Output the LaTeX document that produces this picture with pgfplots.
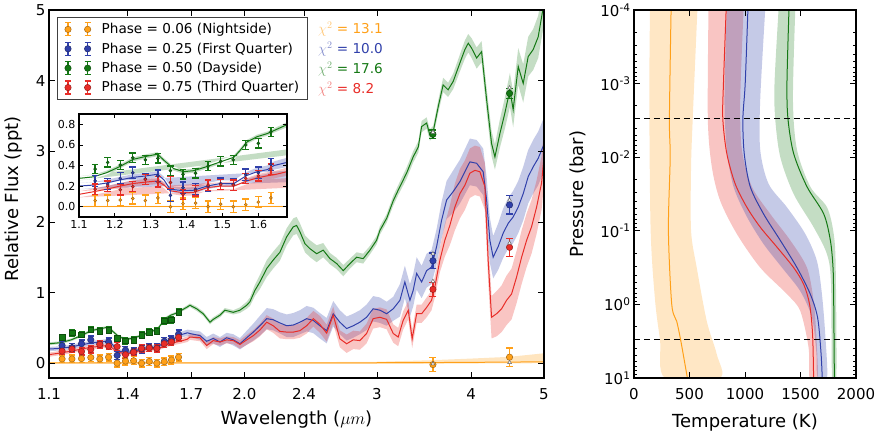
\documentclass[border=0pt]{standalone}
\usepackage{pgfplots}
\pgfplotsset{compat=1.18}
\usepackage{pgfplotstable}
\usepackage{fontspec}
\setmainfont{DejaVu Sans}

\definecolor{cOr}{RGB}{255,160,25}
\definecolor{cBl}{RGB}{48,64,170}
\definecolor{cGr}{RGB}{20,120,20}
\definecolor{cRd}{RGB}{232,45,40}

\pgfplotsset{
  /pgf/number format/assume math mode=true,
  /pgf/number format/1000 sep={},
  every axis/.append style={
    axis line style={line width=1.4pt},
    tick align=inside,
    tick style={black, line width=0.8pt},
    major tick length=6pt, minor tick length=3pt,
    tick label style={font=\fontsize{15}{18}\selectfont},
    label style={font=\fontsize{18}{21.6}\selectfont},
    axis on top,
  },
}

% WFC3 spectroscopic points (ppt)
\pgfplotstableread{
lam og oge bl ble gr gre rd rde
1.145 0.060 0.055 0.250 0.055 0.365 0.045 0.170 0.050
1.180 0.060 0.055 0.220 0.055 0.430 0.045 0.200 0.050
1.215 0.065 0.055 0.275 0.055 0.405 0.045 0.165 0.050
1.250 0.080 0.055 0.330 0.055 0.475 0.045 0.195 0.050
1.285 0.060 0.055 0.270 0.055 0.455 0.045 0.265 0.050
1.320 0.085 0.055 0.300 0.055 0.470 0.045 0.240 0.050
1.355 0.000 0.055 0.110 0.060 0.350 0.045 0.235 0.055
1.390 0.030 0.055 0.185 0.055 0.315 0.045 0.120 0.050
1.425 0.035 0.055 0.170 0.055 0.325 0.045 0.155 0.050
1.460 0.000 0.055 0.200 0.055 0.395 0.045 0.210 0.050
1.495 0.025 0.055 0.225 0.055 0.440 0.045 0.215 0.050
1.530 0.000 0.055 0.215 0.055 0.455 0.045 0.210 0.050
1.565 0.020 0.055 0.310 0.055 0.600 0.045 0.275 0.050
1.600 0.045 0.055 0.330 0.055 0.615 0.045 0.300 0.050
1.635 0.085 0.055 0.410 0.060 0.725 0.045 0.365 0.050
}\wfc

% Spitzer photometry and band-averaged models
\pgfplotstableread{
lam og oge bl ble gr gre rd rde ogm blm grm rdm
3.56 -0.020 0.100 1.450 0.110 3.240 0.060 1.045 0.100 -0.010 1.550 3.270 1.160
4.50 0.085 0.130 2.240 0.130 3.820 0.070 1.640 0.130 0.010 2.310 3.900 1.700
}\spz

% best-fit models with 1-sigma envelopes
\pgfplotstableread{
lam y lo hi
1.10 0.005 -0.010 0.015
1.70 0.005 -0.010 0.015
2.50 0.005 -0.010 0.015
3.00 0.006 -0.010 0.020
3.50 0.008 -0.008 0.040
4.00 0.012 -0.005 0.065
4.50 0.015 -0.003 0.090
5.00 0.020 0.000 0.140
}\omod

\pgfplotstableread{
lam y lo hi
1.100 0.275 0.255 0.295
1.140 0.290 0.270 0.310
1.177 0.330 0.310 0.350
1.214 0.390 0.370 0.410
1.251 0.460 0.440 0.480
1.289 0.490 0.470 0.510
1.319 0.510 0.490 0.530
1.337 0.450 0.430 0.470
1.364 0.370 0.350 0.390
1.392 0.340 0.320 0.360
1.420 0.350 0.330 0.370
1.457 0.390 0.370 0.410
1.494 0.435 0.415 0.455
1.532 0.480 0.460 0.500
1.550 0.550 0.530 0.570
1.569 0.630 0.610 0.650
1.597 0.680 0.660 0.700
1.625 0.710 0.690 0.730
1.644 0.740 0.720 0.760
1.676 0.790 0.765 0.815
1.693 0.820 0.795 0.845
1.728 0.770 0.740 0.800
1.763 0.700 0.670 0.730
1.800 0.580 0.550 0.610
1.818 0.620 0.590 0.650
1.856 0.680 0.650 0.710
1.884 0.750 0.720 0.780
1.933 0.720 0.690 0.750
1.973 0.750 0.710 0.790
2.014 0.820 0.770 0.870
2.034 0.870 0.810 0.930
2.065 1.030 0.950 1.110
2.097 1.150 1.050 1.250
2.141 1.340 1.220 1.460
2.184 1.460 1.340 1.580
2.229 1.570 1.450 1.690
2.276 1.790 1.670 1.910
2.322 1.930 1.810 2.050
2.346 1.950 1.830 2.070
2.370 1.860 1.740 1.980
2.407 1.690 1.570 1.810
2.444 1.620 1.500 1.740
2.494 1.550 1.430 1.670
2.545 1.600 1.500 1.700
2.598 1.480 1.400 1.560
2.652 1.410 1.330 1.490
2.706 1.310 1.230 1.390
2.762 1.410 1.340 1.480
2.819 1.500 1.430 1.570
2.876 1.480 1.410 1.550
2.936 1.600 1.540 1.660
2.996 1.740 1.680 1.800
3.027 1.880 1.820 1.940
3.090 2.050 1.990 2.110
3.153 2.300 2.230 2.370
3.201 2.450 2.380 2.520
3.284 2.690 2.610 2.770
3.351 2.920 2.840 3.000
3.404 3.060 2.980 3.140
3.439 3.350 3.270 3.430
3.492 3.400 3.320 3.480
3.527 3.230 3.150 3.310
3.563 3.280 3.200 3.360
3.618 3.630 3.540 3.720
3.673 3.940 3.840 4.040
3.729 3.870 3.770 3.970
3.788 3.990 3.880 4.100
3.866 4.250 4.130 4.370
3.926 4.440 4.310 4.570
3.966 4.530 4.400 4.660
4.007 4.460 4.320 4.600
4.069 4.320 4.170 4.470
4.131 4.410 4.260 4.560
4.195 3.730 3.560 3.900
4.259 3.110 2.930 3.290
4.303 2.920 2.740 3.100
4.369 3.250 3.050 3.450
4.436 3.540 3.320 3.760
4.505 3.870 3.630 4.110
4.550 3.590 3.340 3.840
4.621 4.200 3.940 4.460
4.692 3.960 3.690 4.230
4.764 4.340 4.060 4.620
4.837 4.440 4.150 4.730
4.912 4.620 4.320 4.920
5.000 5.100 4.800 5.400
}\gmod

\pgfplotstableread{
lam y lo hi
1.100 0.200 0.170 0.230
1.140 0.210 0.180 0.240
1.177 0.230 0.200 0.260
1.214 0.260 0.230 0.290
1.251 0.285 0.255 0.315
1.289 0.300 0.270 0.330
1.319 0.315 0.285 0.345
1.337 0.260 0.230 0.290
1.354 0.170 0.140 0.200
1.392 0.155 0.125 0.185
1.420 0.160 0.130 0.190
1.457 0.200 0.170 0.230
1.494 0.225 0.195 0.255
1.532 0.225 0.195 0.255
1.550 0.265 0.230 0.300
1.569 0.305 0.270 0.340
1.597 0.340 0.300 0.380
1.625 0.360 0.320 0.400
1.644 0.400 0.360 0.440
1.680 0.430 0.385 0.475
1.693 0.420 0.370 0.470
1.746 0.390 0.330 0.450
1.782 0.310 0.250 0.370
1.818 0.350 0.280 0.420
1.856 0.300 0.230 0.370
1.894 0.360 0.290 0.430
1.933 0.330 0.250 0.410
1.973 0.275 0.195 0.355
2.014 0.360 0.260 0.460
2.055 0.440 0.320 0.560
2.097 0.530 0.390 0.670
2.141 0.630 0.480 0.780
2.184 0.615 0.465 0.765
2.229 0.570 0.420 0.720
2.276 0.530 0.370 0.690
2.322 0.540 0.370 0.710
2.370 0.580 0.410 0.750
2.419 0.630 0.450 0.810
2.469 0.605 0.425 0.785
2.519 0.530 0.350 0.710
2.572 0.460 0.280 0.640
2.624 0.700 0.520 0.880
2.678 0.580 0.410 0.750
2.734 0.490 0.320 0.660
2.790 0.530 0.360 0.700
2.847 0.580 0.410 0.750
2.906 0.650 0.470 0.830
2.965 0.770 0.590 0.950
3.027 0.750 0.570 0.930
3.090 0.700 0.530 0.870
3.153 0.770 0.600 0.940
3.218 0.890 0.660 1.120
3.267 1.150 0.920 1.380
3.318 0.890 0.660 1.120
3.351 1.030 0.800 1.260
3.387 1.270 1.040 1.500
3.439 1.150 0.920 1.380
3.492 1.310 1.070 1.550
3.545 1.360 1.120 1.600
3.600 1.650 1.400 1.900
3.655 2.020 1.760 2.280
3.712 2.310 2.040 2.580
3.788 2.430 2.130 2.730
3.866 2.570 2.260 2.880
3.926 2.710 2.390 3.030
3.986 2.850 2.520 3.180
4.069 2.830 2.500 3.160
4.151 2.710 2.380 3.040
4.195 2.310 1.980 2.640
4.237 1.740 1.420 2.060
4.280 1.500 1.200 1.800
4.346 1.650 1.320 1.980
4.413 1.840 1.490 2.190
4.481 1.980 1.620 2.340
4.550 2.070 1.700 2.440
4.621 2.210 1.840 2.580
4.692 2.400 2.020 2.780
4.764 2.640 2.260 3.020
4.837 2.780 2.400 3.160
4.912 2.900 2.520 3.280
5.000 3.100 2.720 3.480
}\bmod

\pgfplotstableread{
lam y lo hi
1.100 0.120 0.090 0.150
1.140 0.145 0.115 0.175
1.177 0.170 0.140 0.200
1.214 0.200 0.170 0.230
1.251 0.225 0.195 0.255
1.289 0.240 0.210 0.270
1.319 0.250 0.220 0.280
1.337 0.210 0.180 0.240
1.354 0.155 0.125 0.185
1.392 0.135 0.105 0.165
1.420 0.140 0.110 0.170
1.457 0.185 0.155 0.215
1.494 0.200 0.170 0.230
1.532 0.200 0.170 0.230
1.550 0.225 0.195 0.255
1.569 0.250 0.220 0.280
1.597 0.280 0.245 0.315
1.625 0.300 0.265 0.335
1.644 0.310 0.275 0.345
1.680 0.340 0.300 0.380
1.693 0.370 0.330 0.410
1.746 0.360 0.310 0.410
1.782 0.250 0.200 0.300
1.818 0.320 0.270 0.370
1.856 0.300 0.250 0.350
1.894 0.330 0.280 0.380
1.933 0.320 0.270 0.370
1.973 0.265 0.205 0.325
2.014 0.330 0.260 0.400
2.055 0.390 0.310 0.470
2.097 0.470 0.380 0.560
2.141 0.580 0.480 0.680
2.184 0.530 0.430 0.630
2.229 0.450 0.350 0.550
2.276 0.440 0.340 0.540
2.322 0.440 0.340 0.540
2.370 0.460 0.360 0.560
2.419 0.530 0.420 0.640
2.469 0.630 0.520 0.740
2.519 0.550 0.430 0.670
2.572 0.425 0.305 0.545
2.624 0.680 0.560 0.800
2.678 0.345 0.225 0.465
2.734 0.275 0.145 0.405
2.790 0.330 0.200 0.460
2.847 0.320 0.190 0.450
2.906 0.420 0.280 0.560
2.965 0.630 0.490 0.770
3.027 0.650 0.510 0.790
3.090 0.620 0.480 0.760
3.153 0.420 0.290 0.550
3.201 0.370 0.240 0.500
3.250 0.605 0.475 0.735
3.301 0.750 0.620 0.880
3.341 0.345 0.215 0.475
3.387 0.700 0.570 0.830
3.439 0.700 0.570 0.830
3.492 0.790 0.650 0.930
3.545 0.890 0.750 1.030
3.581 1.080 0.930 1.230
3.637 1.460 1.290 1.630
3.692 1.740 1.510 1.970
3.749 1.950 1.670 2.230
3.807 2.210 1.880 2.540
3.866 2.400 2.050 2.750
3.926 2.520 2.170 2.870
3.986 2.690 2.340 3.040
4.048 2.730 2.380 3.080
4.110 2.710 2.360 3.060
4.173 2.500 2.170 2.830
4.215 1.460 1.160 1.760
4.259 0.650 0.350 0.950
4.325 0.700 0.380 1.020
4.392 0.770 0.440 1.100
4.459 0.890 0.540 1.240
4.528 0.980 0.620 1.340
4.598 1.220 0.850 1.590
4.669 1.500 1.120 1.880
4.741 1.740 1.360 2.120
4.813 1.930 1.550 2.310
4.888 2.210 1.830 2.590
4.963 2.550 2.170 2.930
5.000 2.920 2.540 3.300
}\rmod

% envelope outline: upper edge forward, lower edge backward, in column e
\newcommand\mkband[2]{%
  \pgfplotstablesort[sort key=lam, sort cmp=float <]{#2}{#1}%
  \pgfplotstablesort[sort key=lam, sort cmp=float >]{\tmpR}{#1}%
  \pgfplotstablecreatecol[create col/copy=hi]{e}{#2}%
  \pgfplotstablecreatecol[create col/copy=lo]{e}{\tmpR}%
  \pgfplotstablevertcat{#2}{\tmpR}%
}
\mkband{\omod}{\oband}
\mkband{\gmod}{\gband}
\mkband{\bmod}{\bband}
\mkband{\rmod}{\rband}

% data points with error bars: #1 table, #2 column, #3 error column, #4 colour, #5 mark, #6 mark size, #7 cap size
\newcommand\points[7]{%
  \addplot[only marks, forget plot, color=#4, mark=#5, mark size=#6,
    mark options={fill=#4, draw=#4!65!black, line width=0.5pt},
    error bars/.cd, y dir=both, y explicit,
    error bar style={line width=1.3pt, #4},
    error mark options={rotate=90, line width=1.3pt, mark size=#7, #4}]
    table[x=lam, y=#2, y error=#3]{#1};
}

% legend symbol: two markers with error bars
\newcommand\legEB[1]{%
  \draw[#1, line width=1.2pt]
    (3.2pt,-6.5pt) -- (3.2pt,6.5pt) (0.2pt,-6.5pt) -- (6.2pt,-6.5pt) (0.2pt,6.5pt) -- (6.2pt,6.5pt)
    (22.8pt,-6.5pt) -- (22.8pt,6.5pt) (19.8pt,-6.5pt) -- (25.8pt,-6.5pt) (19.8pt,6.5pt) -- (25.8pt,6.5pt);
  \filldraw[fill=#1, draw=#1!65!black, line width=0.5pt] (3.2pt,0pt) circle (3.2pt) (22.8pt,0pt) circle (3.2pt);%
}

\begin{document}
\begin{tikzpicture}
\path[use as bounding box] (0,0) rectangle (883pt,-431pt);

% ---------------- spectra ----------------
\begin{axis}[
  at={(49pt,-378pt)}, anchor=south west, scale only axis,
  width=495pt, height=368pt,
  xmode=log, xmin=1.1, xmax=5, ymin=-0.21, ymax=5,
  xtick={1.1,1.4,1.7,2.0,2.4,3,4,5},
  xticklabels={1.1,1.4,1.7,2.0,2.4,3,4,5},
  ytick={0,1,2,3,4,5},
  xticklabel shift=7pt,
  xlabel={Wavelength ($\mu m$)}, ylabel={Relative Flux (ppt)},
  xlabel style={at={(axis description cs:0.5,-0.112)}, anchor=center},
  ylabel style={at={(axis description cs:-0.0707,0.487)}, anchor=center},
  legend cell align=left,
  legend style={at={(0.0162,0.980)}, anchor=north west,
    draw=black!75, line width=0.8pt, fill=white,
    font=\fontsize{13.6}{16}\selectfont,
    nodes={inner sep=1pt},
    inner xsep=7pt, inner ysep=4.5pt, row sep=5.2pt,
    /tikz/every odd column/.append style={column sep=9.5pt}},
]
\addlegendimage{legend image code/.code={\legEB{cOr}}}
\addlegendentry{Phase = 0.06 (Nightside)}
\addlegendimage{legend image code/.code={\legEB{cBl}}}
\addlegendentry{Phase = 0.25 (First Quarter)}
\addlegendimage{legend image code/.code={\legEB{cGr}}}
\addlegendentry{Phase = 0.50 (Dayside)}
\addlegendimage{legend image code/.code={\legEB{cRd}}}
\addlegendentry{Phase = 0.75 (Third Quarter)}

\addplot[fill=cOr, fill opacity=0.28, draw=none, forget plot] table[x=lam,y=e]{\oband};
\addplot[fill=cGr, fill opacity=0.25, draw=none, forget plot] table[x=lam,y=e]{\gband};
\addplot[fill=cBl, fill opacity=0.28, draw=none, forget plot] table[x=lam,y=e]{\bband};
\addplot[fill=cRd, fill opacity=0.28, draw=none, forget plot] table[x=lam,y=e]{\rband};
\addplot[cOr, line width=1pt, forget plot] table[x=lam,y=y]{\omod};
\addplot[cGr, line width=1pt, forget plot] table[x=lam,y=y]{\gmod};
\addplot[cBl, line width=1pt, forget plot] table[x=lam,y=y]{\bmod};
\addplot[cRd, line width=1pt, forget plot] table[x=lam,y=y]{\rmod};

\points{\wfc}{og}{oge}{cOr}{*}{3.2pt}{3pt}
\points{\wfc}{bl}{ble}{cBl}{*}{3.2pt}{3pt}
\points{\wfc}{gr}{gre}{cGr}{square*}{2.8pt}{3pt}
\points{\wfc}{rd}{rde}{cRd}{*}{3.2pt}{3pt}

\points{\spz}{og}{oge}{cOr}{*}{3.2pt}{3.5pt}
\points{\spz}{bl}{ble}{cBl}{*}{3.2pt}{3.5pt}
\points{\spz}{gr}{gre}{cGr}{*}{3.2pt}{3.5pt}
\points{\spz}{rd}{rde}{cRd}{*}{3.2pt}{3.5pt}
\addplot[only marks, forget plot, mark=triangle*, mark size=2.2pt,
  mark options={fill=white, draw=black!60, line width=0.5pt}] table[x=lam, y=ogm]{\spz};
\addplot[only marks, forget plot, mark=triangle*, mark size=2.2pt,
  mark options={fill=white, draw=black!60, line width=0.5pt}] table[x=lam, y=blm]{\spz};
\addplot[only marks, forget plot, mark=triangle*, mark size=2.2pt,
  mark options={fill=white, draw=black!60, line width=0.5pt}] table[x=lam, y=grm]{\spz};
\addplot[only marks, forget plot, mark=triangle*, mark size=2.2pt,
  mark options={fill=white, draw=black!60, line width=0.5pt}] table[x=lam, y=rdm]{\spz};

\node[anchor=west, inner sep=0pt, text=cOr, font=\fontsize{13.6}{16}\selectfont] at (rel axis cs:0.5434,0.9484) {\textcolor{cOr!60}{$\chi^2$} = 13.1};
\node[anchor=west, inner sep=0pt, text=cBl, font=\fontsize{13.6}{16}\selectfont] at (rel axis cs:0.5434,0.8940) {\textcolor{cBl!60}{$\chi^2$} = 10.0};
\node[anchor=west, inner sep=0pt, text=cGr, font=\fontsize{13.6}{16}\selectfont] at (rel axis cs:0.5434,0.8397) {\textcolor{cGr!60}{$\chi^2$} = 17.6};
\node[anchor=west, inner sep=0pt, text=cRd, font=\fontsize{13.6}{16}\selectfont] at (rel axis cs:0.5434,0.7853) {\textcolor{cRd!60}{$\chi^2$} = 8.2};
\end{axis}

% ---------------- WFC3 inset ----------------
\begin{axis}[
  at={(79pt,-217pt)}, anchor=south west, scale only axis,
  width=208pt, height=103pt,
  xmin=1.1, xmax=1.68, ymin=-0.1, ymax=0.9,
  restrict x to domain=1.0:1.8,
  xtick={1.1,1.2,...,1.6}, ytick={0,0.2,...,0.8},
  tick label style={font=\fontsize{11}{13}\selectfont},
  xticklabel style={/pgf/number format/.cd, fixed, fixed zerofill, precision=1},
  yticklabel style={/pgf/number format/.cd, fixed, fixed zerofill, precision=1},
  major tick length=4pt,
  axis background/.style={fill=white},
]
\addplot[fill=cOr, fill opacity=0.28, draw=none] table[x=lam,y=e]{\oband};
\addplot[fill=cGr, fill opacity=0.25, draw=none] table[x=lam,y=e]{\gband};
\addplot[fill=cBl, fill opacity=0.28, draw=none] table[x=lam,y=e]{\bband};
\addplot[fill=cRd, fill opacity=0.28, draw=none] table[x=lam,y=e]{\rband};
\addplot[cOr, line width=1pt] table[x=lam,y=y]{\omod};
\addplot[cGr, line width=1pt] table[x=lam,y=y]{\gmod};
\addplot[cBl, line width=1pt] table[x=lam,y=y]{\bmod};
\addplot[cRd, line width=1pt] table[x=lam,y=y]{\rmod};
\points{\wfc}{og}{oge}{cOr}{*}{1.5pt}{3.3pt}
\points{\wfc}{bl}{ble}{cBl}{*}{1.5pt}{3.3pt}
\points{\wfc}{gr}{gre}{cGr}{*}{1.5pt}{3.3pt}
\points{\wfc}{rd}{rde}{cRd}{*}{1.5pt}{3.3pt}
\end{axis}

% ---------------- temperature-pressure profiles ----------------
\begin{axis}[
  at={(634pt,-378pt)}, anchor=south west, scale only axis,
  width=222pt, height=368pt,
  xmin=0, xmax=2000, ymode=log, ymin=1e-4, ymax=10, y dir=reverse,
  xtick={0,500,1000,1500,2000},
  xticklabel shift=7pt,
  ytick={1e-4,1e-3,1e-2,1e-1,1,10},
  yticklabels={10\textsuperscript{-4},10\textsuperscript{-3},10\textsuperscript{-2},10\textsuperscript{-1},10\textsuperscript{0},10\textsuperscript{1}},
  minor ytick={2e-4,3e-4,4e-4,5e-4,6e-4,7e-4,8e-4,9e-4,
    2e-3,3e-3,4e-3,5e-3,6e-3,7e-3,8e-3,9e-3,
    0.02,0.03,0.04,0.05,0.06,0.07,0.08,0.09,
    0.2,0.3,0.4,0.5,0.6,0.7,0.8,0.9,
    2,3,4,5,6,7,8,9},
  xlabel={Temperature (K)}, ylabel={Pressure (bar)},
  xlabel style={at={(axis description cs:0.5,-0.122)}, anchor=center},
  ylabel style={at={(axis description cs:-0.253,0.5)}, anchor=center},
]
% envelopes: cool edge downward, hot edge back up
\addplot[fill=cOr, fill opacity=0.25, draw=none, smooth] coordinates {
  (144,1e-4) (138,1.66e-3) (150,0.1) (190,0.891) (235,3.09) (280,10)
  (770,10) (746,4.79) (656,1.70) (565,0.316) (514,0.1) (514,0.0135) (529,3.0e-3) (571,1e-4)};
\addplot[fill=cRd, fill opacity=0.28, draw=none, smooth] coordinates {
  (671,1e-4) (665,3.0e-3) (701,0.0135) (776,0.0389) (926,0.110) (1137,0.316) (1378,0.724) (1498,1.23) (1573,3.89) (1582,10)
  (1654,10) (1642,2.57) (1618,0.891) (1558,0.316) (1408,0.135) (1227,0.0589) (1062,0.0251) (972,7.9e-3) (957,1.66e-3) (987,1e-4)};
\addplot[fill=cBl, fill opacity=0.28, draw=none, smooth] coordinates {
  (836,1e-4) (815,1.66e-3) (836,7.9e-3) (896,0.0251) (1017,0.0646) (1167,0.151) (1333,0.316) (1498,0.661) (1603,1.51) (1642,4.37) (1654,10)
  (1739,10) (1723,2.57) (1693,0.724) (1648,0.257) (1543,0.110) (1378,0.0479) (1212,0.0229) (1137,7.9e-3) (1137,1.66e-3) (1182,1e-4)};
\addplot[fill=cGr, fill opacity=0.25, draw=none, smooth] coordinates {
  (1302,1e-4) (1266,9.84e-4) (1272,3.0e-3) (1318,0.01) (1438,0.0316) (1618,0.0891) (1739,0.209) (1775,0.531) (1784,10)
  (1823,10) (1817,0.316) (1799,0.110) (1739,0.0479) (1588,0.0251) (1468,7.9e-3) (1432,1.66e-3) (1453,1e-4)};

\addplot[cOr, line width=1pt, smooth] coordinates {(334,1e-4) (319,3.0e-3) (326,0.01) (310,0.1) (340,1) (385,1.70) (421,3.09) (481,10)};
\addplot[cRd, line width=1pt, smooth] coordinates {(830,1e-4) (806,9.84e-4) (800,3.0e-3) (836,8.9e-3) (911,0.0229) (1017,0.0479) (1137,0.0891) (1287,0.166) (1438,0.316) (1528,0.531) (1582,1.0) (1609,2.57) (1618,10)};
\addplot[cBl, line width=1pt, smooth] coordinates {(1026,1e-4) (1002,9.84e-4) (981,3.0e-3) (993,8.9e-3) (1047,0.0251) (1167,0.0589) (1318,0.135) (1468,0.316) (1588,0.724) (1654,1.51) (1684,4.37) (1696,10)};
\addplot[cGr, line width=1pt, smooth] coordinates {(1396,1e-4) (1378,9.84e-4) (1387,3.0e-3) (1438,8.9e-3) (1558,0.0251) (1709,0.0589) (1769,0.135) (1793,0.316) (1799,0.891) (1805,10)};

\addplot[black, line width=1pt, dash pattern=on 6pt off 4pt] coordinates {(0,3e-3) (2000,3e-3)};
\addplot[black, line width=1pt, dash pattern=on 6pt off 4pt] coordinates {(0,3) (2000,3)};
\end{axis}
\end{tikzpicture}
\end{document}
